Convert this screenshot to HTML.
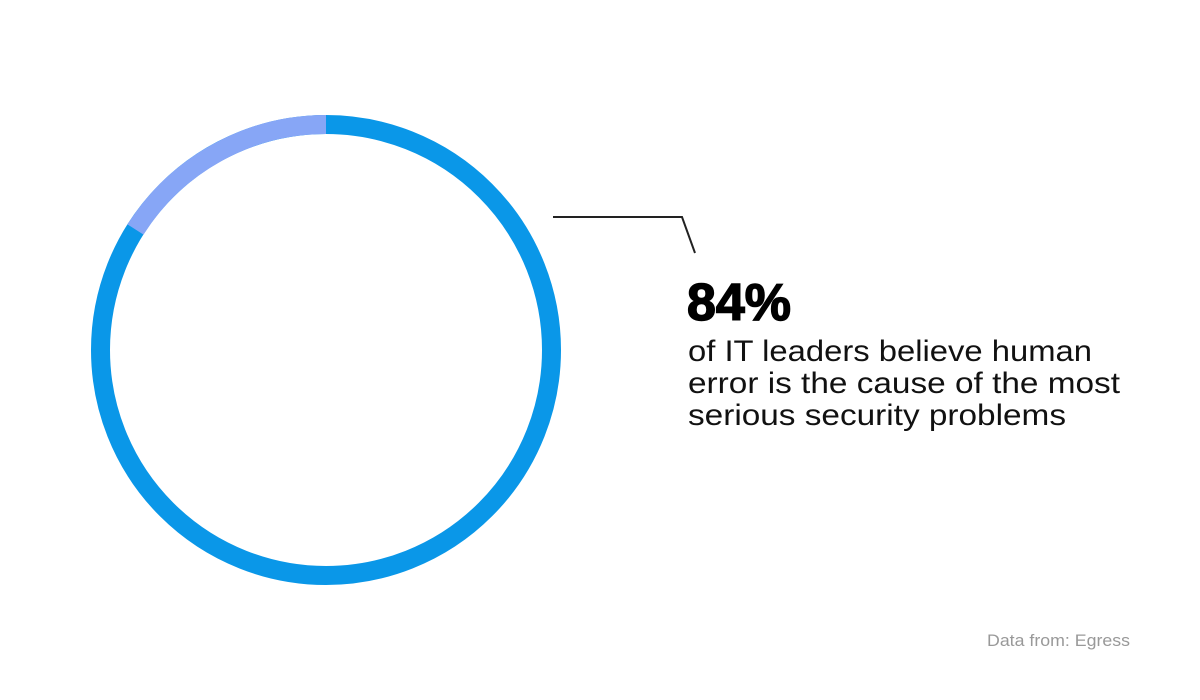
<!DOCTYPE html>
<html><head><meta charset="utf-8"><style>
html,body{margin:0;padding:0;background:#fff;}
svg{display:block}
</style></head><body>
<svg width="1200" height="700" viewBox="0 0 1200 700" xmlns="http://www.w3.org/2000/svg">
<rect width="1200" height="700" fill="#fff"/>
<circle cx="326" cy="350" r="225.5" fill="none" stroke="#0a97e8" stroke-width="19"/>
<path d="M326 124.5 A225.5 225.5 0 0 0 135.5 229.5" fill="none" stroke="#87a6f6" stroke-width="19"/>
<polyline points="553,217 682,217 695,253" fill="none" stroke="#222" stroke-width="2"/>
<text x="687" y="320" font-family="Liberation Sans, sans-serif" font-weight="900" font-size="52" fill="#000" stroke="#000" stroke-width="1.5" textLength="104" lengthAdjust="spacingAndGlyphs">84%</text>
<g font-family="Liberation Sans, sans-serif" font-size="30" fill="#111">
<text x="688" y="361" textLength="404" lengthAdjust="spacingAndGlyphs">of IT leaders believe human</text>
<text x="688" y="393" textLength="432" lengthAdjust="spacingAndGlyphs">error is the cause of the most</text>
<text x="688" y="425" textLength="378" lengthAdjust="spacingAndGlyphs">serious security problems</text>
</g>
<text x="987" y="646" font-family="Liberation Sans, sans-serif" font-size="17" fill="#999" textLength="143" lengthAdjust="spacingAndGlyphs">Data from: Egress</text>
</svg>
</body></html>
